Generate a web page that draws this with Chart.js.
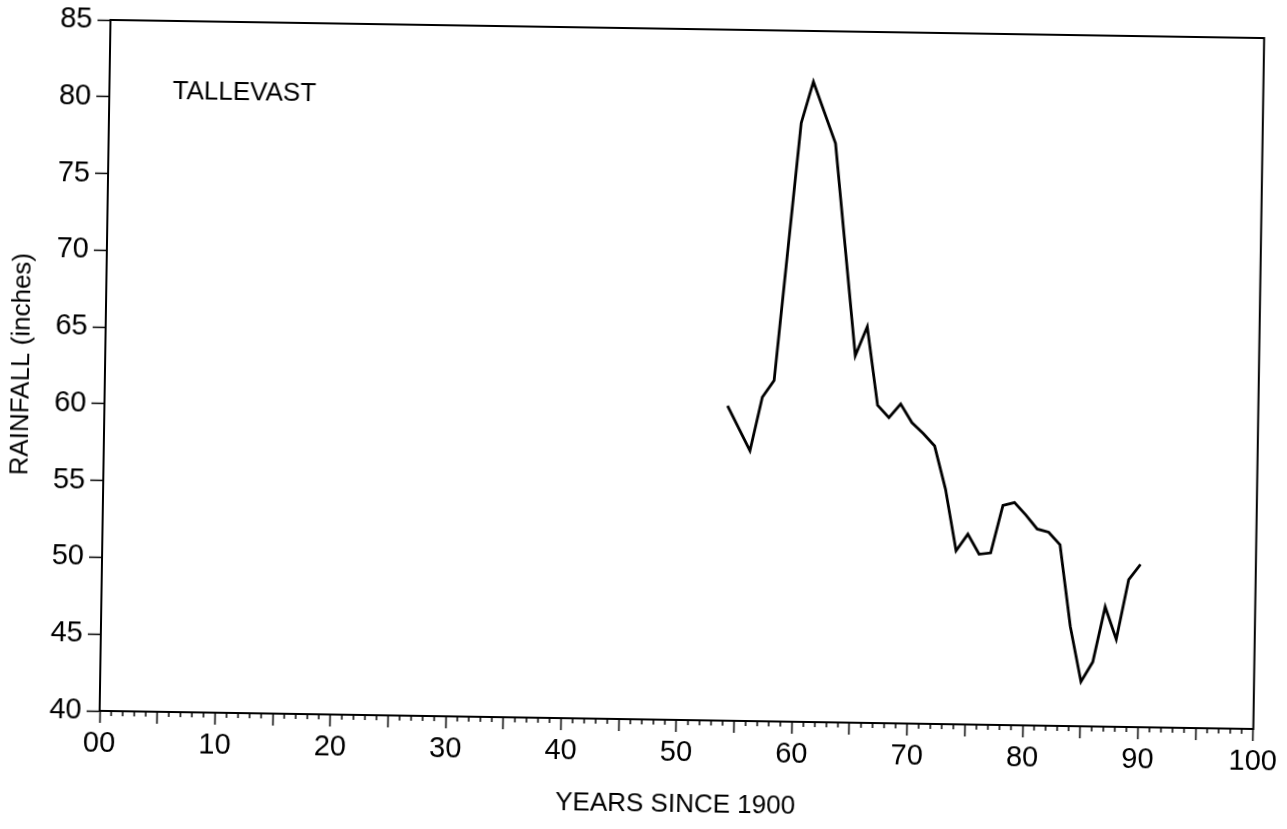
<!DOCTYPE html>
<html>
<head>
<meta charset="utf-8">
<script src="https://cdn.jsdelivr.net/npm/chart.js@4/dist/chart.umd.min.js"></script>
<style>
  html, body { margin: 0; padding: 0; background: #fff; overflow: hidden; }
  #c { position: absolute; left: 0; top: 0; transform: rotate(0.9deg); transform-origin: 683.75px 374px; }
</style>
</head>
<body>
<canvas id="c" width="1287" height="829"></canvas>
<script>
// ---- data ----
const years = [54, 56, 57, 58, 60, 61, 63, 65, 66, 67, 68, 69, 70, 71, 72, 73, 74, 75, 76, 77, 78, 79, 80, 81, 82, 83, 84, 85, 86, 87, 88, 89, 90];
const rainfall = [60.5, 57.6, 61.1, 62.2, 79.0, 81.7, 77.7, 63.9, 65.8, 60.7, 59.9, 60.8, 59.6, 58.9, 58.1, 55.3, 51.3, 52.4, 51.1, 51.2, 54.3, 54.5, 53.7, 52.8, 52.6, 51.8, 46.5, 42.9, 44.2, 47.8, 45.7, 49.6, 50.6];
const xTickLabels = ['00', '10', '20', '30', '40', '50', '60', '70', '80', '90', '100'];
const yTickValues = [40, 45, 50, 55, 60, 65, 70, 75, 80, 85];
const stationLabel = 'TALLEVAST';
const stationLabelAt = [11.7, 80.4]; // [year, inches]
const xTitle = 'YEARS SINCE 1900';
const yTitle = 'RAINFALL (inches)';

const FONT = '"Liberation Sans", Arial, Helvetica, sans-serif';

const framePlugin = {
  id: 'frame',
  afterDraw(chart) {
    const { ctx, chartArea: a, scales: { x, y } } = chart;
    ctx.save();
    ctx.strokeStyle = '#000';
    ctx.lineWidth = 2;
    ctx.strokeRect(a.left, a.top, a.right - a.left, a.bottom - a.top);
    // minor x ticks (every year that is not a multiple of 5)
    ctx.lineWidth = 1.5;
    x.ticks.forEach(t => {
      if (t.value % 5 !== 0) {
        const px = x.getPixelForValue(t.value);
        ctx.beginPath();
        ctx.moveTo(px, a.bottom);
        ctx.lineTo(px, a.bottom + 5);
        ctx.stroke();
      }
    });
    // station label
    ctx.fillStyle = '#000';
    ctx.font = '26px ' + FONT;
    ctx.textAlign = 'center';
    ctx.textBaseline = 'middle';
    ctx.fillText(stationLabel, x.getPixelForValue(stationLabelAt[0]), y.getPixelForValue(stationLabelAt[1]));
    ctx.restore();
  }
};

new Chart(document.getElementById('c'), {
  type: 'line',
  data: {
    datasets: [{
      data: years.map((yr, i) => ({ x: yr, y: rainfall[i] })),
      borderColor: '#000',
      borderWidth: 2.8,
      pointRadius: 0,
      tension: 0,
      fill: false
    }]
  },
  options: {
    responsive: false,
    animation: false,
    events: [],
    layout: { padding: { left: 0, top: 29, right: 25, bottom: 0 } },
    plugins: { legend: { display: false }, tooltip: { enabled: false } },
    scales: {
      x: {
        type: 'linear',
        min: 0, max: 100,
        afterFit(s) { s.height = 109; },
        border: { display: true, color: '#000', width: 2 },
        grid: {
          drawOnChartArea: false, drawTicks: true, tickLength: 12, tickWidth: 1.5,
          tickColor: c => (c.tick && c.tick.value % 5 === 0) ? '#000' : 'rgba(0,0,0,0)'
        },
        ticks: {
          stepSize: 1, autoSkip: false, maxRotation: 0, minRotation: 0,
          padding: 4, color: '#000',
          font: { family: FONT, size: 29 },
          callback: v => (v % 10 === 0) ? xTickLabels[v / 10] : ''
        },
        title: {
          display: true, text: xTitle, color: '#000',
          font: { family: FONT, size: 26 },
          padding: { top: 0, bottom: 9 }
        }
      },
      y: {
        type: 'linear',
        min: 40, max: 85,
        afterFit(s) { s.width = 105; },
        afterBuildTicks(s) { s.ticks = yTickValues.map(v => ({ value: v })); },
        border: { display: true, color: '#000', width: 2 },
        grid: { drawOnChartArea: false, drawTicks: true, tickLength: 13, tickWidth: 1.5, tickColor: '#000' },
        ticks: {
          padding: 5, color: '#000',
          font: { family: FONT, size: 29 }
        },
        title: {
          display: true, text: yTitle, color: '#000',
          font: { family: FONT, size: 26 },
          padding: { top: 6, bottom: 0 }
        }
      }
    }
  },
  plugins: [framePlugin]
});
</script>
</body>
</html>
